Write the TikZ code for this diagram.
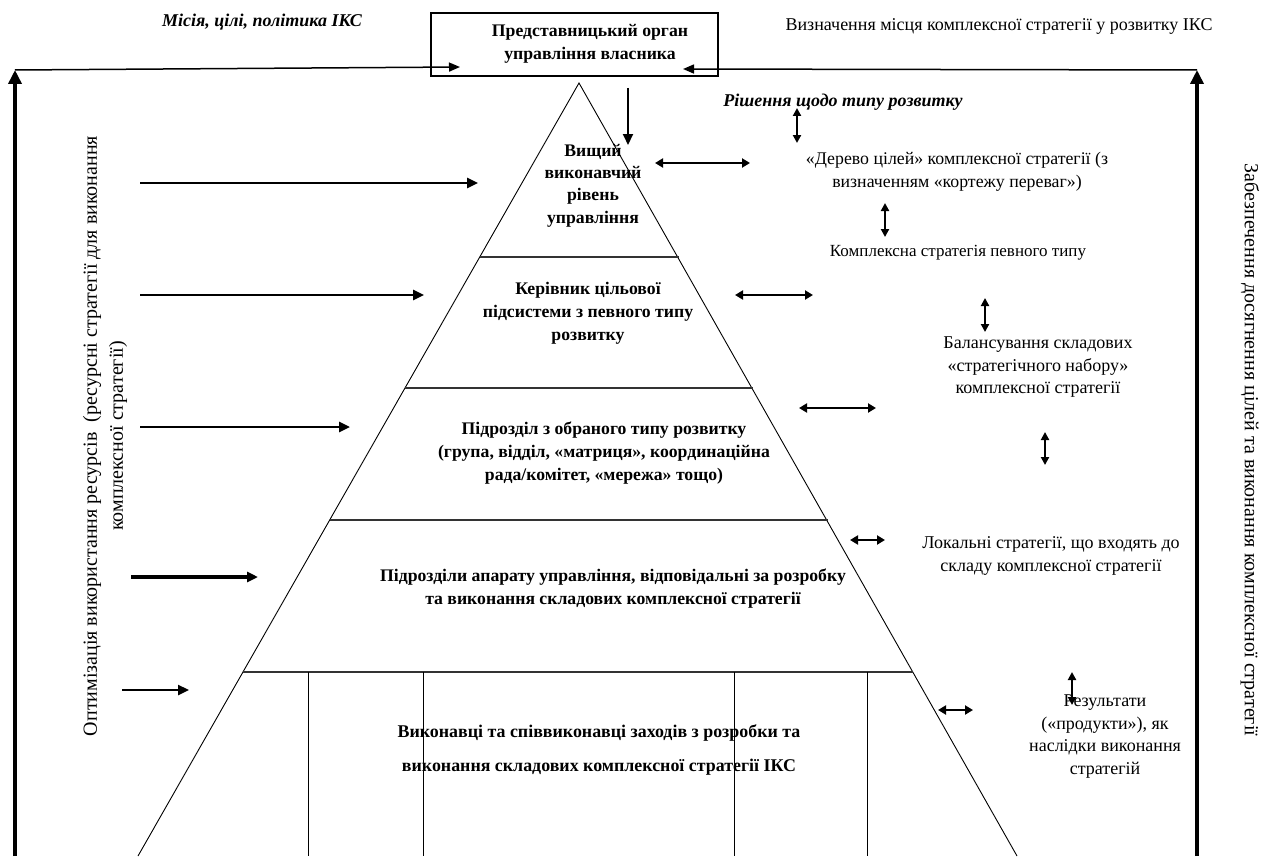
\documentclass[tikz,border=0pt]{standalone}
\usepackage{fontspec}
\setmainfont{Liberation Serif}
\usetikzlibrary{arrows.meta}

\begin{document}
\begin{tikzpicture}[x=1pt,y=-1pt,
  every node/.style={inner sep=0pt, outer sep=0pt},
  txt/.style={font=\fontsize{18}{22.5}\selectfont, align=center},
  btxt/.style={font=\bfseries\fontsize{17.7}{23}\selectfont, align=center},
  itxt/.style={font=\bfseries\itshape\fontsize{18}{20}\selectfont},
  sidetxt/.style={font=\fontsize{20}{26}\selectfont, align=center},
  edge/.style={line width=0.9pt},
  divider/.style={line width=1.2pt, draw=black!80},
  frame/.style={line width=4.4pt, -{Triangle[length=14pt,width=13pt]}},
  feed/.style={line width=1.5pt, -{Triangle[length=11pt,width=9pt]}},
  push/.style={line width=2.6pt, -{Triangle[length=11pt,width=10pt]}},
  both/.style={line width=2.2pt, {Triangle[length=8pt,width=9pt]}-{Triangle[length=8pt,width=9pt]}},
  vboth/.style={line width=2pt, {Triangle[length=8pt,width=8pt]}-{Triangle[length=8pt,width=8pt]}}
]
\useasboundingbox (0,0) rectangle (1273,856);

% ---------- owner box and the feedback frame ----------
\node[draw, line width=1.3pt, minimum width=287pt, minimum height=63pt] (owner) at (574.5,44.5) {};
\node[btxt] (ownertxt) at (590,44) {Представницький орган\\управління власника};

\coordinate (lbot) at (15,856);
\coordinate (ltop) at (15,70);
\coordinate (rbot) at (1197,856);
\coordinate (rtop) at (1197,70);
\coordinate (ownerL) at (460,67);
\coordinate (ownerR) at (683,69);
\draw[frame] (lbot) -- (ltop);
\draw[frame] (rbot) -- (rtop);
\draw[feed] (ltop) -- (ownerL);
\draw[feed] (rtop) -- (ownerR);

\node[itxt] (mission) at (262,22) {Місія, цілі, політика ІКС};
\node[txt] (place) at (999,26) {Визначення місця комплексної стратегії у розвитку ІКС};

\node[sidetxt, rotate=90] (resources) at (105,436)
  {Оптимізація використання ресурсів\ \ (ресурсні стратегії для виконання\\комплексної стратегії)};
\node[sidetxt, rotate=-90] (goals) at (1250,450)
  {Забезпечення досягнення цілей та виконання комплексної стратегії};

% ---------- the pyramid ----------
\coordinate (apex) at (579,83);
\coordinate (baseL) at (138,856);
\coordinate (baseR) at (1017,856);
\draw[edge] (baseL) -- (apex) -- (baseR);

\draw[divider] (479.7,257) -- (679,257);
\draw[divider] (405,388) -- (753,388);
\draw[divider] (329.7,520) -- (828,520);
\draw[divider] (243,672) -- (913,672);
\foreach \xx in {308,423,734,867}
  \draw[edge] (\xx,672) -- (\xx,856);

\node[btxt, font=\bfseries\fontsize{17.7}{22.4}\selectfont] (lvl1) at (593,185.5) {Вищий\\виконавчий\\рівень\\управління};
\node[btxt] (lvl2) at (588,313) {Керівник цільової\\підсистеми з певного типу\\розвитку};
\node[btxt] (lvl3) at (604,453) {Підрозділ з обраного типу розвитку\\(група, відділ, «матриця», координаційна\\рада/комітет, «мережа» тощо)};
\node[btxt] (lvl4) at (613,588.5) {Підрозділи апарату управління, відповідальні за розробку\\та виконання складових комплексної стратегії};
\node[btxt, font=\bfseries\fontsize{17.9}{34}\selectfont] (lvl5) at (599,750)
  {Виконавці та співвиконавці заходів з розробки та\\виконання складових комплексної стратегії ІКС};

% ---------- resource arrows into the levels ----------
\coordinate (r1s) at (140,183); \coordinate (r1e) at (478,183);
\coordinate (r2s) at (140,295); \coordinate (r2e) at (424,295);
\coordinate (r3s) at (140,427); \coordinate (r3e) at (350,427);
\coordinate (r4s) at (131,577); \coordinate (r4e) at (258,577);
\coordinate (r5s) at (122,690); \coordinate (r5e) at (189,690);
\draw[push] (r1s) -- (r1e);
\draw[push] (r2s) -- (r2e);
\draw[push] (r3s) -- (r3e);
\draw[push, line width=3.8pt] (r4s) -- (r4e);
\draw[push, line width=2.4pt] (r5s) -- (r5e);

\coordinate (downS) at (628,88); \coordinate (downE) at (628,145);
\draw[push, line width=2pt] (downS) -- (downE);

% ---------- strategy column ----------
\node[itxt] (decision) at (843,102) {Рішення щодо типу розвитку};
\node[txt, font=\fontsize{17.8}{23}\selectfont] (tree) at (957,171.5) {«Дерево цілей» комплексної стратегії (з\\визначенням «кортежу переваг»)};
\node[txt, font=\fontsize{17}{20}\selectfont] (complex) at (958,253) {Комплексна стратегія певного типу};
\node[txt] (balance) at (1038,367.5) {Балансування складових\\«стратегічного набору»\\комплексної стратегії};
\node[txt] (local) at (1051,556) {Локальні стратегії, що входять до\\складу комплексної стратегії};
\node[txt] (results) at (1105,736.5) {Результати\\(«продукти»), як\\наслідки виконання\\стратегій};

% horizontal links between levels and strategies
\coordinate (h1a) at (655,163); \coordinate (h1b) at (750,163);
\coordinate (h2a) at (735,295); \coordinate (h2b) at (813,295);
\coordinate (h3a) at (799,408); \coordinate (h3b) at (876,408);
\coordinate (h4a) at (850,540); \coordinate (h4b) at (885,540);
\coordinate (h5a) at (938,710); \coordinate (h5b) at (973,710);
\draw[both] (h1a) -- (h1b);
\draw[both] (h2a) -- (h2b);
\draw[both] (h3a) -- (h3b);
\draw[both] (h4a) -- (h4b);
\draw[both] (h5a) -- (h5b);

% vertical links between strategy stages
\coordinate (v1a) at (797,108); \coordinate (v1b) at (797,143);
\coordinate (v2a) at (885,203); \coordinate (v2b) at (885,237);
\coordinate (v3a) at (985,298); \coordinate (v3b) at (985,332);
\coordinate (v4a) at (1045,432); \coordinate (v4b) at (1045,465);
\coordinate (v5a) at (1072,672); \coordinate (v5b) at (1072,705);
\draw[vboth] (v1a) -- (v1b);
\draw[vboth] (v2a) -- (v2b);
\draw[vboth] (v3a) -- (v3b);
\draw[vboth] (v4a) -- (v4b);
\draw[vboth] (v5a) -- (v5b);
\end{tikzpicture}
\end{document}
